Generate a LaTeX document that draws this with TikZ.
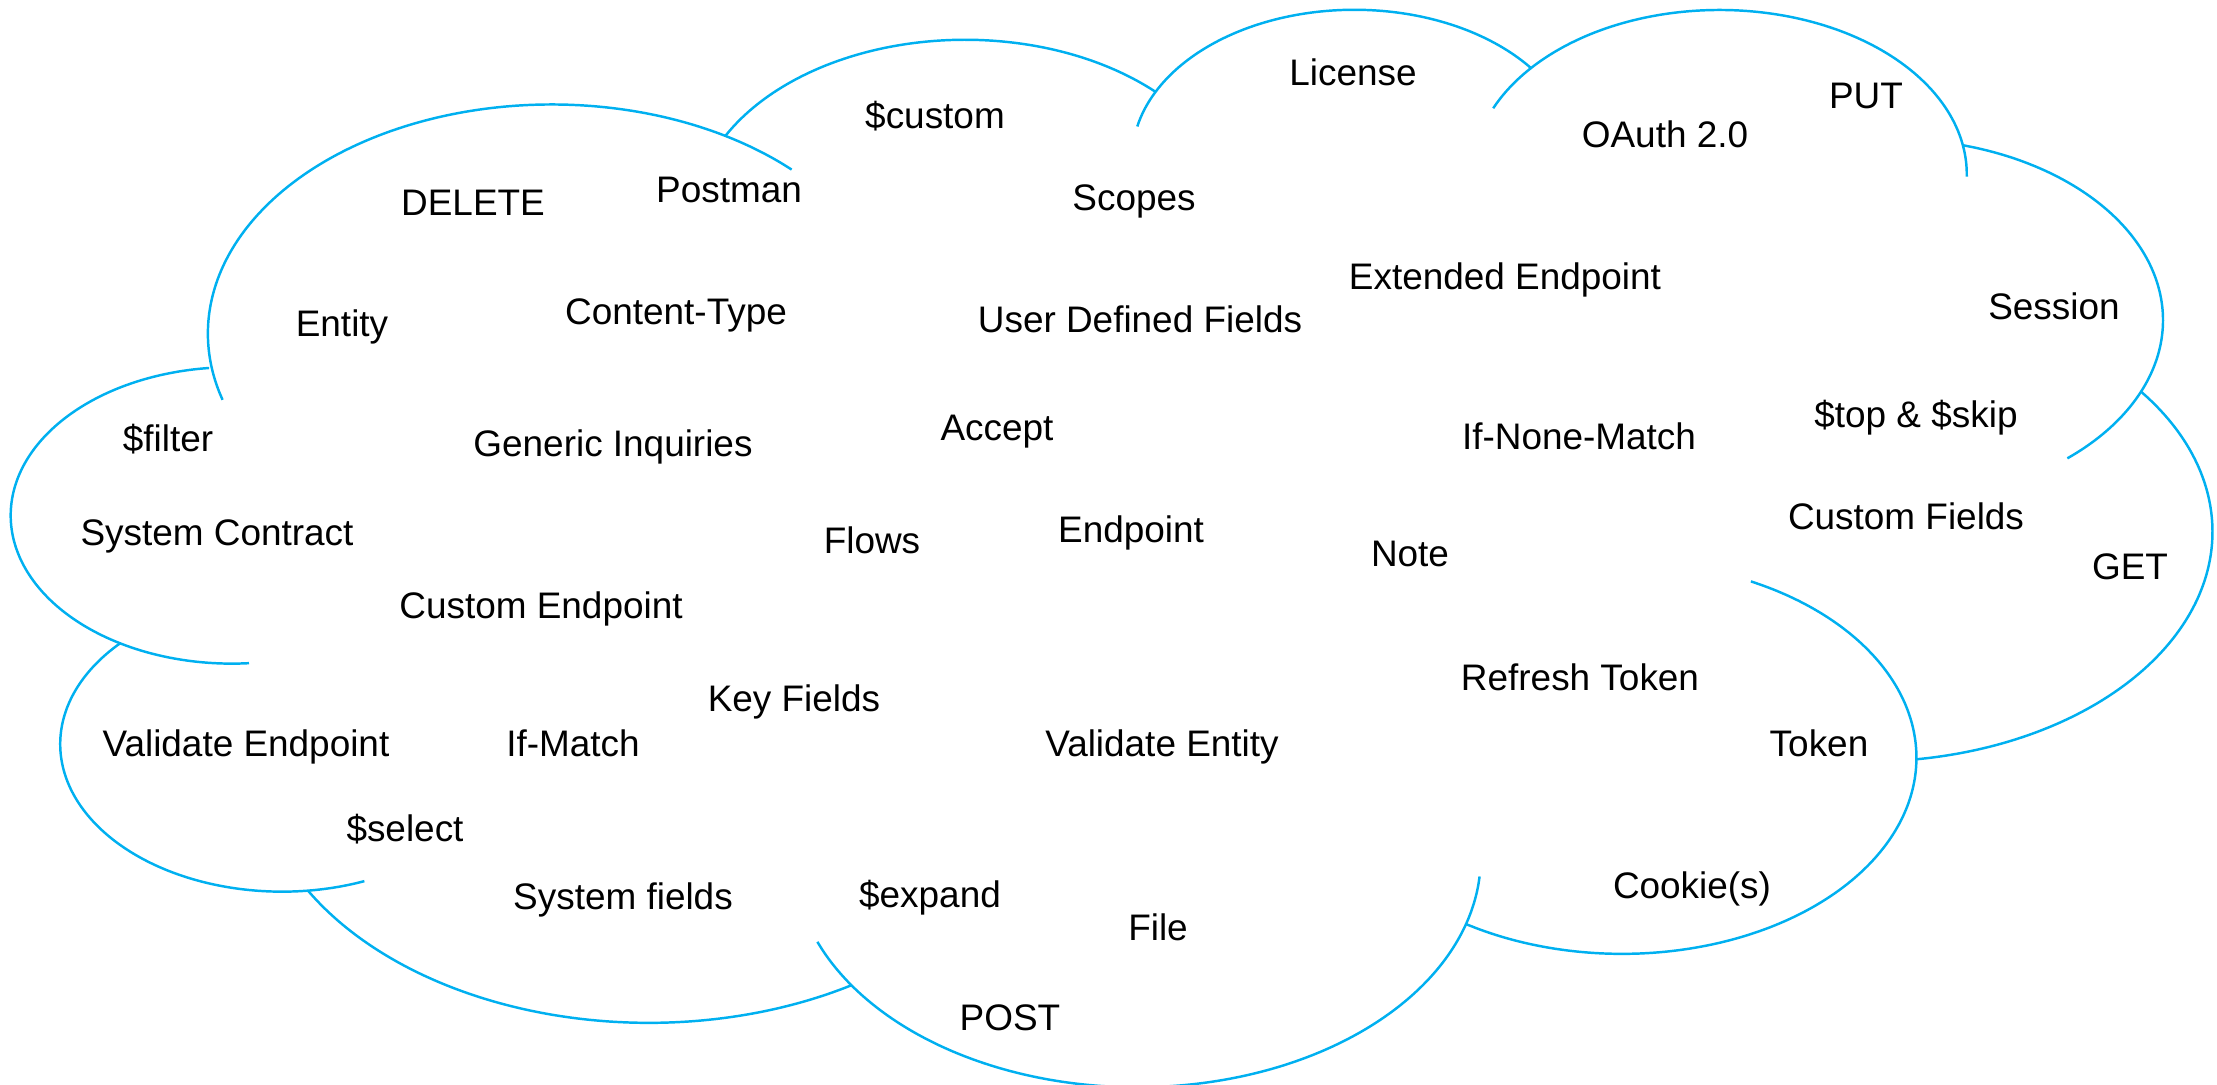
\documentclass[tikz,border=0pt]{standalone}
\usepackage{fontspec}
\setmainfont{Liberation Sans}
\definecolor{cloudblue}{RGB}{0,176,240}
\tikzset{
  word/.style={anchor=base, inner sep=0pt, font=\fontsize{10.5}{12.6}\selectfont},
  cloudline/.style={cloudblue, line width=0.7pt}
}
\begin{document}
\begin{tikzpicture}[x=0.01cm,y=-0.01cm]
\useasboundingbox (0,0) rectangle (2217,1085);

% cloud: one elliptic bump each, centre/radii/start/end
\begin{scope}[shift={(0.125cm,-0.062cm)},x=0.050877cm,y=-0.024917cm]
\foreach \cx/\cy/\rx/\ry/\sa/\ea in {105.91/131.31/67.53/91.90/-196.81/-45.71,
    187.14/86.13/53.33/72.67/-152.01/-45.45,
    263.62/60.88/43.65/59.45/-167.73/-37.35,
    335.36/67.46/48.57/65.95/-156.29/0.82,
    369.15/125.94/53.33/72.73/-74.77/49.63,
    364.45/210.79/67.75/92.20/-37.55/81.86,
    316.19/301.43/57.85/78.67/-64.03/121.97,
    220.93/341.46/67.52/92.15/4.74/158.47,
    125.03/302.34/77.20/105.43/58.98/150.19,
    52.97/295.97/43.60/59.18/68.24/223.09,
    43.09/204.24/43.45/59.45/85.55/264.11}
  \draw[cloudline] plot[domain=\sa:\ea, samples=70, smooth, variable=\ang] ({\cx+\rx*cos(\ang)},{\cy+\ry*sin(\ang)});
\end{scope}

% words
\node[word] (license) at (1353,86) {License};
\node[word] (custom) at (935,129) {\$custom};
\node[word] (put) at (1866,109) {PUT};
\node[word] (oauth) at (1665,148) {OAuth 2.0};
\node[word] (postman) at (729,203) {Postman};
\node[word] (delete) at (473,216) {DELETE};
\node[word] (scopes) at (1134,211) {Scopes};
\node[word] (extended) at (1505,290) {Extended Endpoint};
\node[word] (session) at (2054,320) {Session};
\node[word] (contenttype) at (676,324) {Content-Type};
\node[word] (entity) at (342,337) {Entity};
\node[word] (udf) at (1140,333) {User Defined Fields};
\node[word] (topskip) at (1916,428) {\$top \& \$skip};
\node[word] (accept) at (997,441) {Accept};
\node[word] (ifnone) at (1579,449) {If-None-Match};
\node[word] (filter) at (168,452) {\$filter};
\node[word] (generic) at (613,456) {Generic Inquiries};
\node[word] (customfields) at (1906,529) {Custom Fields};
\node[word] (syscontract) at (217,545) {System Contract};
\node[word] (endpoint) at (1131,542) {Endpoint};
\node[word] (flows) at (872,553) {Flows};
\node[word] (note) at (1410,566) {Note};
\node[word] (get) at (2130,580) {GET};
\node[word] (customendpoint) at (541,618) {Custom Endpoint};
\node[word] (refresh) at (1580,690) {Refresh Token};
\node[word] (keyfields) at (794,711) {Key Fields};
\node[word] (valendpoint) at (246,756) {Validate Endpoint};
\node[word] (ifmatch) at (573,756) {If-Match};
\node[word] (valentity) at (1162,756) {Validate Entity};
\node[word] (token) at (1819,756) {Token};
\node[word] (select) at (405,841) {\$select};
\node[word] (cookie) at (1692,898) {Cookie(s)};
\node[word] (expand) at (930,907) {\$expand};
\node[word] (sysfields) at (623,909) {System fields};
\node[word] (file) at (1158,940) {File};
\node[word] (post) at (1010,1030) {POST};

\end{tikzpicture}
\end{document}
